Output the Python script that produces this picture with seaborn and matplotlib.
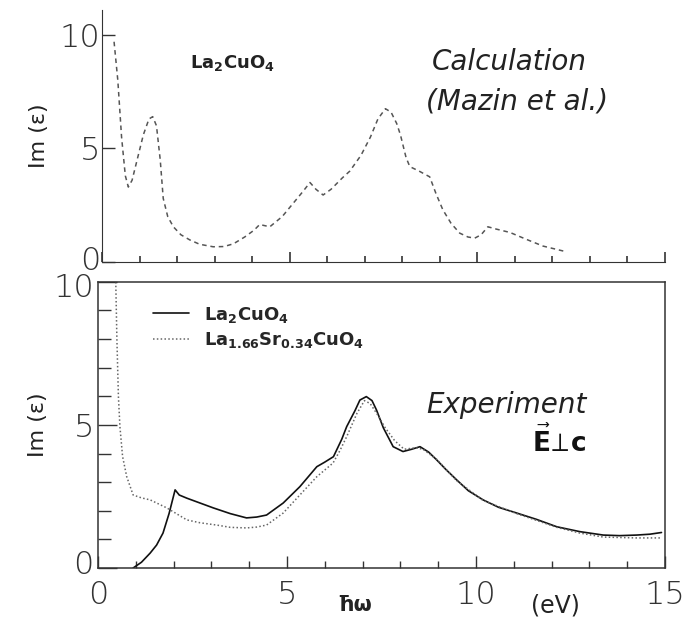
import numpy as np
import pandas as pd
import matplotlib
matplotlib.use("Agg")
import matplotlib.pyplot as plt
import matplotlib.transforms as mtransforms
import seaborn as sns

# ---- data ----
calc_x = [0.32, 0.42, 0.52, 0.62, 0.70, 0.80, 0.95, 1.10, 1.25, 1.35, 1.45, 1.55, 1.63, 1.75,
          1.90, 2.10, 2.34, 2.60, 2.96, 3.25, 3.50, 3.80, 4.05, 4.20, 4.47, 4.80, 5.10, 5.35,
          5.54, 5.70, 5.89, 6.10, 6.40, 6.60, 6.90, 7.15, 7.35, 7.55, 7.70, 7.85, 7.95, 8.10,
          8.20, 8.45, 8.73, 8.90, 9.08, 9.30, 9.53, 9.75, 9.93, 10.10, 10.28, 10.50, 10.87,
          11.30, 11.75, 12.37]
calc_y = [9.7, 8.0, 5.5, 3.8, 3.3, 3.6, 4.6, 5.6, 6.3, 6.4, 6.0, 4.5, 2.8, 2.0,
          1.55, 1.2, 0.97, 0.78, 0.67, 0.68, 0.80, 1.1, 1.4, 1.65, 1.55, 2.0, 2.6, 3.1,
          3.5, 3.2, 2.95, 3.2, 3.7, 4.0, 4.7, 5.5, 6.3, 6.75, 6.6, 6.1, 5.6, 4.6,
          4.2, 4.0, 3.75, 3.0, 2.3, 1.7, 1.27, 1.1, 1.05, 1.2, 1.55, 1.45, 1.3,
          1.0, 0.7, 0.45]

la2_x = [0.93, 1.15, 1.38, 1.55, 1.72, 1.88, 2.04, 2.15, 2.35, 2.70, 3.05, 3.50, 3.93, 4.20,
         4.46, 4.90, 5.34, 5.79, 6.00, 6.23, 6.45, 6.58, 6.80, 6.93, 7.10, 7.25, 7.37, 7.55,
         7.81, 8.07, 8.30, 8.52, 8.75, 8.96, 9.20, 9.49, 9.80, 10.19, 10.60, 11.08, 11.60,
         12.14, 12.75, 13.37, 13.80, 14.25, 14.60, 14.91]
la2_y = [0.0, 0.2, 0.52, 0.8, 1.22, 1.9, 2.73, 2.55, 2.44, 2.27, 2.1, 1.9, 1.75, 1.78,
         1.85, 2.27, 2.84, 3.54, 3.7, 3.89, 4.5, 4.94, 5.5, 5.87, 5.99, 5.85, 5.52, 4.9,
         4.24, 4.07, 4.15, 4.24, 4.05, 3.78, 3.45, 3.08, 2.7, 2.38, 2.12, 1.92, 1.70,
         1.44, 1.27, 1.15, 1.13, 1.15, 1.18, 1.24]

lasr_x = [0.47, 0.50, 0.54, 0.58, 0.65, 0.76, 0.93, 1.15, 1.38, 1.82, 2.35, 2.70, 3.14, 3.50,
          3.93, 4.20, 4.46, 4.90, 5.34, 5.79, 6.22, 6.40, 6.58, 6.85, 7.05, 7.20, 7.40, 7.60,
          7.85, 8.10, 8.40, 8.60, 8.96, 9.49, 10.19, 11.08, 12.14, 12.75, 13.37, 14.25, 14.91]
lasr_y = [10.0, 8.0, 6.0, 4.94, 3.9, 3.19, 2.55, 2.45, 2.38, 2.1, 1.68, 1.58, 1.5, 1.42,
          1.4, 1.43, 1.5, 1.92, 2.55, 3.19, 3.67, 4.1, 4.59, 5.4, 5.85, 5.75, 5.35, 4.9,
          4.45, 4.15, 4.2, 4.15, 3.8, 3.05, 2.36, 1.90, 1.42, 1.22, 1.08, 1.05, 1.05]

x_ticks = [0, 5, 10, 15]
y_ticks = [0, 5, 10]
label_la2 = r"La$_2$CuO$_4$"
label_lasr = r"La$_{1.66}$Sr$_{0.34}$CuO$_4$"

sns.set_style("ticks")
plt.rcParams["font.family"] = ["DejaVu Sans"]
plt.rcParams["mathtext.default"] = "regular"

fig = plt.figure(figsize=(6.99, 6.26), dpi=100)
ax1 = fig.add_axes([0.146, 0.5815, 0.8054, 0.4026])
ax2 = fig.add_axes([0.1402, 0.0927, 0.811, 0.457])

calc_df = pd.DataFrame({"x": calc_x, "y": calc_y})
sns.lineplot(data=calc_df, x="x", y="y", ax=ax1, color="#555555", lw=1.1,
             linestyle=(0, (3, 2.5)), sort=False, estimator=None)

la2_df = pd.DataFrame({"x": la2_x, "y": la2_y})
lasr_df = pd.DataFrame({"x": lasr_x, "y": lasr_y})
sns.lineplot(data=la2_df, x="x", y="y", ax=ax2, color="#111111", lw=1.2,
             sort=False, estimator=None, label=label_la2)
sns.lineplot(data=lasr_df, x="x", y="y", ax=ax2, color="#666666", lw=1.1,
             linestyle=(0, (1, 1.5)), sort=False, estimator=None, label=label_lasr)

tick_font = dict(family="DejaVu Sans", size=23, weight="light", color="#1a1a1a")


def shift(label, dx_pt, dy_pt):
    label.set_transform(label.get_transform() +
                        mtransforms.ScaledTranslation(dx_pt / 72, dy_pt / 72, fig.dpi_scale_trans))


# top panel
ax1.set_xlim(0, 15)
ax1.set_ylim(0, 11.1)
for s in ["top", "right"]:
    ax1.spines[s].set_visible(False)
ax1.spines["left"].set_color("#333333")
ax1.spines["bottom"].set_color("#333333")
ax1.set_xticks(x_ticks)
ax1.set_xticks(np.arange(0, 16, 1), minor=True)
ax1.set_xticklabels([])
ax1.set_yticks(y_ticks)
ax1.set_yticklabels([str(v) for v in y_ticks], fontdict=tick_font)
ax1.tick_params(axis="x", which="major", direction="in", length=7, width=1.2, colors="#333333")
ax1.tick_params(axis="x", which="minor", direction="in", length=4, width=1.2, colors="#333333")
ax1.tick_params(axis="y", which="major", direction="in", length=9, width=1.0, pad=1, colors="#333333")
shift(ax1.get_yticklabels()[0], 0, 3)
ax1.set_xlabel("")
ax1.set_ylabel("Im (ε)", fontsize=16, color="#222222", labelpad=8)
ax1.text(3.46, 8.77, label_la2, fontsize=13, fontweight="bold", color="#222222",
         ha="center", va="center")
ax1.text(10.84, 8.8, "Calculation", fontsize=20, style="italic", color="#222222",
         ha="center", va="center")
ax1.text(11.05, 7.05, "(Mazin et al.)", fontsize=20, style="italic", color="#222222",
         ha="center", va="center")

# bottom panel
ax2.set_xlim(0, 15)
ax2.set_ylim(0, 10)
for s in ax2.spines.values():
    s.set_color("#333333")
    s.set_linewidth(1.1)
ax2.set_xticks(x_ticks)
ax2.set_xticks(np.arange(0, 16, 1), minor=True)
ax2.set_xticklabels([str(v) for v in x_ticks], fontdict=tick_font)
ax2.set_yticks(y_ticks)
ax2.set_yticks(np.arange(0, 11, 1), minor=True)
ax2.set_yticklabels([str(v) for v in y_ticks], fontdict=tick_font)
ax2.tick_params(axis="x", which="major", direction="in", length=9, width=1.0, pad=9, colors="#333333")
ax2.tick_params(axis="x", which="minor", direction="in", length=5, width=1.0, colors="#333333")
ax2.tick_params(axis="y", which="major", direction="in", length=14, width=1.0, pad=3, colors="#333333")
ax2.tick_params(axis="y", which="minor", direction="in", length=9, width=1.0, colors="#333333")
shift(ax2.get_yticklabels()[0], 0, 4)
shift(ax2.get_yticklabels()[-1], 0, -2)
ax2.set_xlabel("")
ax2.set_ylabel("Im (ε)", fontsize=16, color="#222222", labelpad=4)
ax2.legend(loc="upper left", bbox_to_anchor=(0.097, 0.92), frameon=False,
           borderpad=0, borderaxespad=0, handlelength=2.0, handletextpad=0.8,
           labelspacing=0.3, prop=dict(size=13, weight="bold"))
ax2.text(10.8, 5.7, "Experiment", fontsize=20, style="italic", color="#222222",
         ha="center", va="center")
ax2.text(12.2, 4.4, r"$\vec{\mathbf{E}}\!\perp\!\mathbf{c}$", fontsize=19, color="#111111",
         ha="center", va="center")
fig.text(355 / 699, 1 - 605 / 626, "ħω", fontsize=15, fontweight="bold", color="#222222",
         ha="center", va="center")
fig.text(555 / 699, 1 - 605 / 626, "(eV)", fontsize=17, color="#222222",
         ha="center", va="center")

fig.savefig("out.png", dpi=100)
